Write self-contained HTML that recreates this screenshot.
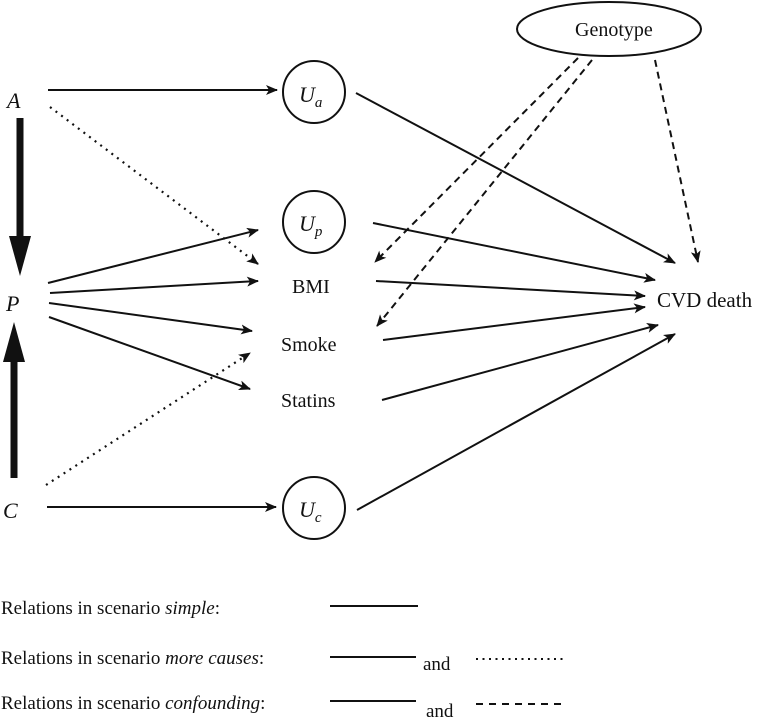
<!DOCTYPE html>
<html><head><style>
html,body{margin:0;padding:0;background:#fff;}
svg{display:block;}
text{font-family:"Liberation Serif",serif;fill:#111;}
</style></head><body>
<svg width="777" height="721" viewBox="0 0 777 721" xmlns="http://www.w3.org/2000/svg">
<defs>
<marker id="ah" viewBox="0 0 12 10" refX="11" refY="5" markerWidth="12" markerHeight="10" markerUnits="userSpaceOnUse" orient="auto">
<path d="M0,0 L12,5 L0,10 L3,5 z" fill="#111"/></marker>
<marker id="big" viewBox="0 0 14 40" refX="38" refY="7" markerWidth="40" markerHeight="14" markerUnits="userSpaceOnUse" orient="auto">
</marker>
</defs>
<g stroke="#111" stroke-width="2" fill="none">
<ellipse cx="609" cy="29" rx="92" ry="27"/>
<circle cx="314" cy="92" r="31"/>
<circle cx="314" cy="222" r="31"/>
<circle cx="314" cy="508" r="31"/>
<line x1="48" y1="90" x2="277" y2="90" marker-end="url(#ah)"/>
<line x1="47" y1="507" x2="276" y2="507" marker-end="url(#ah)"/>
<line x1="48" y1="283" x2="258" y2="230" marker-end="url(#ah)"/>
<line x1="50" y1="293" x2="258" y2="281" marker-end="url(#ah)"/>
<line x1="49" y1="303" x2="252" y2="331" marker-end="url(#ah)"/>
<line x1="49" y1="317" x2="250" y2="389" marker-end="url(#ah)"/>
<line x1="356" y1="93" x2="675" y2="263" marker-end="url(#ah)"/>
<line x1="373" y1="223" x2="655" y2="280" marker-end="url(#ah)"/>
<line x1="376" y1="281" x2="645" y2="296" marker-end="url(#ah)"/>
<line x1="383" y1="340" x2="645" y2="307" marker-end="url(#ah)"/>
<line x1="382" y1="400" x2="658" y2="325" marker-end="url(#ah)"/>
<line x1="357" y1="510" x2="675" y2="334" marker-end="url(#ah)"/>
<g stroke-dasharray="2,5" stroke-width="2.2">
<line x1="50" y1="107" x2="258" y2="264" marker-end="url(#ah)"/>
<line x1="46" y1="485" x2="250" y2="353" marker-end="url(#ah)"/>
</g>
<g stroke-dasharray="7,5">
<line x1="578" y1="58" x2="375" y2="262" marker-end="url(#ah)"/>
<line x1="592" y1="60" x2="377" y2="326" marker-end="url(#ah)"/>
<line x1="655" y1="60" x2="698" y2="262" marker-end="url(#ah)"/>
</g>
<line x1="20" y1="118" x2="20" y2="240" stroke-width="7"/>
<line x1="14" y1="478" x2="14" y2="358" stroke-width="7"/>
</g>
<path d="M9,236 L31,236 L20,276 z" fill="#111"/>
<path d="M3,362 L25,362 L14,322 z" fill="#111"/>
<g font-size="22" font-style="italic">
<text x="7" y="108">A</text>
<text x="6" y="311">P</text>
<text x="3" y="518">C</text>
</g>
<text x="299" y="102" font-size="22" font-style="italic">U<tspan font-size="15" dy="5">a</tspan></text>
<text x="299" y="231" font-size="22" font-style="italic">U<tspan font-size="15" dy="5">p</tspan></text>
<text x="299" y="517" font-size="22" font-style="italic">U<tspan font-size="15" dy="5">c</tspan></text>
<g font-size="20">
<text x="292" y="293">BMI</text>
<text x="281" y="351">Smoke</text>
<text x="281" y="407">Statins</text>
<text x="657" y="307" font-size="21">CVD death</text>
<text x="575" y="36">Genotype</text>
</g>
<g font-size="19">
<text x="1" y="614">Relations in scenario <tspan font-style="italic">simple</tspan>:</text>
<text x="1" y="664">Relations in scenario <tspan font-style="italic">more causes</tspan>:</text>
<text x="1" y="709">Relations in scenario <tspan font-style="italic">confounding</tspan>:</text>
<text x="423" y="670">and</text>
<text x="426" y="717">and</text>
</g>
<g stroke="#111" stroke-width="2">
<line x1="330" y1="606" x2="418" y2="606"/>
<line x1="330" y1="657" x2="416" y2="657"/>
<line x1="330" y1="701" x2="416" y2="701"/>
<line x1="476" y1="659" x2="564" y2="659" stroke-dasharray="2,4.5"/>
<line x1="476" y1="704" x2="562" y2="704" stroke-dasharray="7,6"/>
</g>
</svg>
</body></html>
